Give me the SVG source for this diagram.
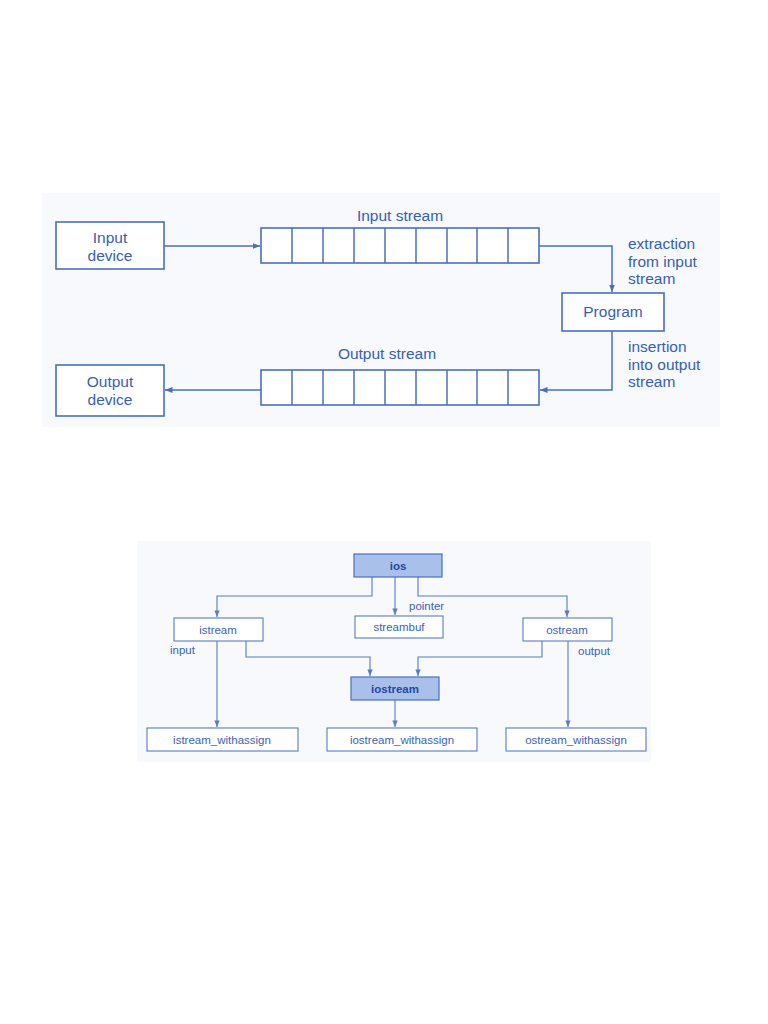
<svg xmlns="http://www.w3.org/2000/svg" width="768" height="1024" viewBox="0 0 768 1024">
<style>
  .bg{fill:#f7f9fc}
  .box{fill:#ffffff;stroke:#4a6fc2;stroke-width:1.6}
  .sbox{fill:#ffffff;stroke:#5a7cc8;stroke-width:1.1}
  .hbox{fill:#a9c0ea;stroke:#4a6fc2;stroke-width:1.2}
  .cell{stroke:#4a6fc2;stroke-width:1.5}
  .ln{fill:none;stroke:#4a6fc2;stroke-width:1.5}
  .sln{fill:none;stroke:#5a7cc8;stroke-width:1.1}
  .t{font-family:"Liberation Sans",Arial,sans-serif;font-size:15.5px;fill:#3760b4}
  .st{font-family:"Liberation Sans",Arial,sans-serif;font-size:11.5px;fill:#3d63b4}
  .bt{font-family:"Liberation Sans",Arial,sans-serif;font-size:11.5px;fill:#2448a0;font-weight:bold}
</style>
<defs>
  <marker id="ah" viewBox="0 0 10 10" refX="10" refY="5" markerWidth="5" markerHeight="5" orient="auto" markerUnits="strokeWidth">
    <path d="M0,1 L10,5 L0,9 z" fill="#4a6fc2"/>
  </marker>
  <marker id="sah" viewBox="0 0 10 10" refX="10" refY="5" markerWidth="6" markerHeight="6" orient="auto" markerUnits="strokeWidth">
    <path d="M0,1 L10,5 L0,9 z" fill="#5a7cc8"/>
  </marker>
  <pattern id="cells" x="261" y="0" width="31" height="10" patternUnits="userSpaceOnUse">
    <line x1="0" y1="0" x2="0" y2="10" stroke="#4a6fc2" stroke-width="1.5"/>
  </pattern>
</defs>
<rect width="768" height="1024" fill="#ffffff"/>
<rect class="bg" x="42" y="193" width="678" height="234"/>
<rect class="bg" x="137" y="541" width="514" height="221"/>

<g id="connectors">
  <path class="ln" d="M164,246 H260" marker-end="url(#ah)"/>
  <path class="ln" d="M539,246 H612 V292" marker-end="url(#ah)"/>
  <path class="ln" d="M612,331 V390 H540" marker-end="url(#ah)"/>
  <path class="ln" d="M261,390 H165" marker-end="url(#ah)"/>

  <path class="sln" d="M372,577 V596 H217 V617" marker-end="url(#sah)"/>
  <path class="sln" d="M395,577 V615" marker-end="url(#sah)"/>
  <path class="sln" d="M418,577 V596 H567 V617" marker-end="url(#sah)"/>
  <path class="sln" d="M217,641 V727" marker-end="url(#sah)"/>
  <path class="sln" d="M246,641 V657 H370 V676" marker-end="url(#sah)"/>
  <path class="sln" d="M542,641 V657 H418 V676" marker-end="url(#sah)"/>
  <path class="sln" d="M395,700 V727" marker-end="url(#sah)"/>
  <path class="sln" d="M568,641 V727" marker-end="url(#sah)"/>
</g>

<g id="input-device">
  <rect class="box" x="56" y="222" width="108" height="47"/>
  <text class="t" x="110" y="243" text-anchor="middle">Input</text>
  <text class="t" x="110" y="261" text-anchor="middle">device</text>
</g>
<g id="output-device">
  <rect class="box" x="56" y="365" width="108" height="51"/>
  <text class="t" x="110" y="387" text-anchor="middle">Output</text>
  <text class="t" x="110" y="405" text-anchor="middle">device</text>
</g>
<g id="input-stream">
  <rect class="box" x="261" y="228" width="278" height="35"/>
  <g class="cell">
    <line x1="292" y1="228" x2="292" y2="263"/><line x1="323" y1="228" x2="323" y2="263"/>
    <line x1="354" y1="228" x2="354" y2="263"/><line x1="385" y1="228" x2="385" y2="263"/>
    <line x1="416" y1="228" x2="416" y2="263"/><line x1="447" y1="228" x2="447" y2="263"/>
    <line x1="477" y1="228" x2="477" y2="263"/><line x1="508" y1="228" x2="508" y2="263"/>
  </g>
  <text class="t" x="400" y="221" text-anchor="middle">Input stream</text>
</g>
<g id="output-stream">
  <rect class="box" x="261" y="370" width="278" height="35"/>
  <g class="cell">
    <line x1="292" y1="370" x2="292" y2="405"/><line x1="323" y1="370" x2="323" y2="405"/>
    <line x1="354" y1="370" x2="354" y2="405"/><line x1="385" y1="370" x2="385" y2="405"/>
    <line x1="416" y1="370" x2="416" y2="405"/><line x1="447" y1="370" x2="447" y2="405"/>
    <line x1="477" y1="370" x2="477" y2="405"/><line x1="508" y1="370" x2="508" y2="405"/>
  </g>
  <text class="t" x="387" y="359" text-anchor="middle">Output stream</text>
</g>
<g id="program">
  <rect class="box" x="562" y="293" width="102" height="38"/>
  <text class="t" x="613" y="317" text-anchor="middle">Program</text>
</g>
<g id="labels-top">
  <text class="t" x="628" y="249">extraction</text>
  <text class="t" x="628" y="267">from input</text>
  <text class="t" x="628" y="284">stream</text>
  <text class="t" x="628" y="352">insertion</text>
  <text class="t" x="628" y="370">into output</text>
  <text class="t" x="628" y="387">stream</text>
</g>

<g id="ios">
  <rect class="hbox" x="354" y="554" width="88" height="23"/>
  <text class="bt" x="398" y="570" text-anchor="middle">ios</text>
</g>
<g id="istream">
  <rect class="sbox" x="174" y="618" width="89" height="23"/>
  <text class="st" x="218" y="634" text-anchor="middle">istream</text>
</g>
<g id="streambuf">
  <rect class="sbox" x="355" y="616" width="88" height="22"/>
  <text class="st" x="399" y="631" text-anchor="middle">streambuf</text>
</g>
<g id="ostream">
  <rect class="sbox" x="523" y="618" width="89" height="23"/>
  <text class="st" x="567" y="634" text-anchor="middle">ostream</text>
</g>
<g id="iostream">
  <rect class="hbox" x="351" y="677" width="88" height="23"/>
  <text class="bt" x="395" y="693" text-anchor="middle">iostream</text>
</g>
<g id="istream_withassign">
  <rect class="sbox" x="147" y="728" width="151" height="23"/>
  <text class="st" x="222" y="744" text-anchor="middle">istream_withassign</text>
</g>
<g id="iostream_withassign">
  <rect class="sbox" x="327" y="728" width="150" height="23"/>
  <text class="st" x="402" y="744" text-anchor="middle">iostream_withassign</text>
</g>
<g id="ostream_withassign">
  <rect class="sbox" x="506" y="728" width="140" height="23"/>
  <text class="st" x="576" y="744" text-anchor="middle">ostream_withassign</text>
</g>
<g id="labels-bottom">
  <text class="st" x="170" y="654">input</text>
  <text class="st" x="409" y="610">pointer</text>
  <text class="st" x="578" y="655">output</text>
</g>
</svg>
